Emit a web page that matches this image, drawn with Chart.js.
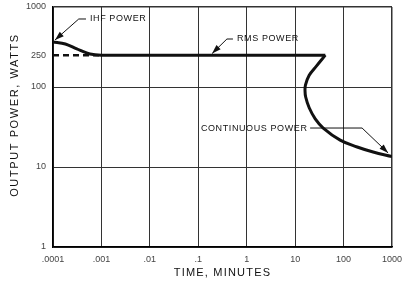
<!DOCTYPE html>
<html>
<head>
<meta charset="utf-8">
<script src="https://cdn.jsdelivr.net/npm/chart.js@4"></script>
<style>
  html, body { margin: 0; padding: 0; background: #fff; }
  #chart { display: block; }
</style>
</head>
<body>
<canvas id="chart" width="414" height="285"></canvas>
<script>
// axis ticks
const xTicks = [0.0001, 0.001, 0.01, 0.1, 1, 10, 100, 1000];
const xLabels = ['.0001', '.001', '.01', '.1', '1', '10', '100', '1000'];
const yTicks = [1, 10, 100, 250, 1000];
const yLabels = ['1', '10', '100', '250', '1000'];

// IHF power falling into RMS power (solid)
const ihfTime = [0.0001, 0.00018, 0.00031, 0.00058, 0.001, 42];
const ihfWatts = [365, 345, 299, 258, 250, 250];

// dashed 250 W reference
const dashTime = [0.0001, 0.001];
const dashWatts = [250, 250];

// continuous power curve
const contTime = [42, 28, 19.5, 16.3, 16, 16.5, 19.5, 26, 38, 85, 191, 408, 1000];
const contWatts = [250, 185, 140, 105, 90, 75, 55, 40, 30.7, 21.7, 17.8, 15.4, 13.5];

// callouts: text, text anchor, leader path (last point = arrow tip)
const notes = [
  { text: 'IHF POWER', at: [0.00058, 708], align: 'left',
    path: [[0.00048, 708], [0.00034, 708], [0.00011, 387]] },
  { text: 'RMS POWER', at: [0.63, 398], align: 'left',
    path: [[0.52, 398], [0.39, 398], [0.193, 262]] },
  { text: 'CONTINUOUS POWER', at: [18, 30.7], align: 'right',
    path: [[20.4, 30.7], [241, 30.7], [832, 15]] }
];

const pts = (xs, ys) => xs.map((x, i) => ({ x: x, y: ys[i] }));

const annot = {
  id: 'annot',
  afterDraw(chart) {
    const c = chart.ctx;
    const sx = chart.scales.x, sy = chart.scales.y;
    c.save();
    c.fillStyle = '#111';
    c.strokeStyle = '#111';
    c.font = '9px "Liberation Sans", Arial, sans-serif';
    c.letterSpacing = '0.6px';
    c.textBaseline = 'middle';
    notes.forEach(n => {
      c.textAlign = n.align;
      c.fillText(n.text, sx.getPixelForValue(n.at[0]), sy.getPixelForValue(n.at[1]));
      const p = n.path.map(q => [sx.getPixelForValue(q[0]), sy.getPixelForValue(q[1])]);
      c.lineWidth = 1;
      c.beginPath();
      c.moveTo(p[0][0], p[0][1]);
      for (let i = 1; i < p.length; i++) c.lineTo(p[i][0], p[i][1]);
      c.stroke();
      // arrow head
      const a = p[p.length - 1], b = p[p.length - 2];
      const ang = Math.atan2(a[1] - b[1], a[0] - b[0]);
      const len = 9, w = 3;
      c.beginPath();
      c.moveTo(a[0], a[1]);
      c.lineTo(a[0] - len * Math.cos(ang) + w * Math.sin(ang), a[1] - len * Math.sin(ang) - w * Math.cos(ang));
      c.lineTo(a[0] - len * Math.cos(ang) - w * Math.sin(ang), a[1] - len * Math.sin(ang) + w * Math.cos(ang));
      c.closePath();
      c.fill();
    });
    // axis titles
    c.font = '11px "Liberation Sans", Arial, sans-serif';
    c.letterSpacing = '1.2px';
    c.textAlign = 'center';
    c.fillText('TIME, MINUTES', (chart.chartArea.left + chart.chartArea.right) / 2, 273);
    c.translate(15, 115);
    c.rotate(-Math.PI / 2);
    c.letterSpacing = '1.6px';
    c.fillText('OUTPUT POWER, WATTS', 0, 0);
    c.restore();
  }
};

const tickFont = { family: '"Liberation Sans", Arial, sans-serif', size: 9 };

new Chart(document.getElementById('chart').getContext('2d'), {
  type: 'scatter',
  data: {
    datasets: [
      { data: pts(ihfTime, ihfWatts), showLine: true, borderColor: '#111', borderWidth: 3,
        pointRadius: 0, cubicInterpolationMode: 'monotone' },
      { data: pts(dashTime, dashWatts), showLine: true, borderColor: '#111', borderWidth: 2.5,
        borderDash: [6, 4], pointRadius: 0 },
      { data: pts(contTime, contWatts), showLine: true, borderColor: '#111', borderWidth: 3,
        pointRadius: 0, tension: 0.4 }
    ]
  },
  options: {
    responsive: false,
    animation: false,
    layout: { padding: { top: 7, right: 22, left: 0, bottom: 0 } },
    plugins: { legend: { display: false }, tooltip: { enabled: false } },
    scales: {
      x: {
        type: 'logarithmic', min: 0.0001, max: 1000,
        afterBuildTicks: s => { s.ticks = xTicks.map(v => ({ value: v })); },
        afterFit: s => { s.height = 38; s.paddingLeft = 0; s.paddingRight = 0; },
        grid: { color: '#333', lineWidth: ctx => (ctx.tick && ctx.tick.value === 1000 ? 1.5 : 1), drawTicks: false },
        border: { color: '#000', width: 1.5 },
        ticks: { padding: 7, color: '#444', font: tickFont, maxRotation: 0, autoSkip: false,
          callback: v => xLabels[xTicks.indexOf(v)] }
      },
      y: {
        type: 'logarithmic', min: 1, max: 1000,
        afterBuildTicks: s => { s.ticks = yTicks.map(v => ({ value: v })); },
        afterFit: s => { s.width = 53; s.paddingTop = 0; s.paddingBottom = 0; },
        grid: {
          color: ctx => (ctx.tick && ctx.tick.value === 250 ? 'rgba(0,0,0,0)' : '#333'),
          lineWidth: ctx => (ctx.tick && ctx.tick.value === 1000 ? 1.5 : 1),
          drawTicks: false
        },
        border: { color: '#000', width: 1.5 },
        ticks: { padding: 7, color: '#444', font: tickFont, autoSkip: false,
          callback: v => yLabels[yTicks.indexOf(v)] }
      }
    }
  },
  plugins: [annot]
});
</script>
</body>
</html>
